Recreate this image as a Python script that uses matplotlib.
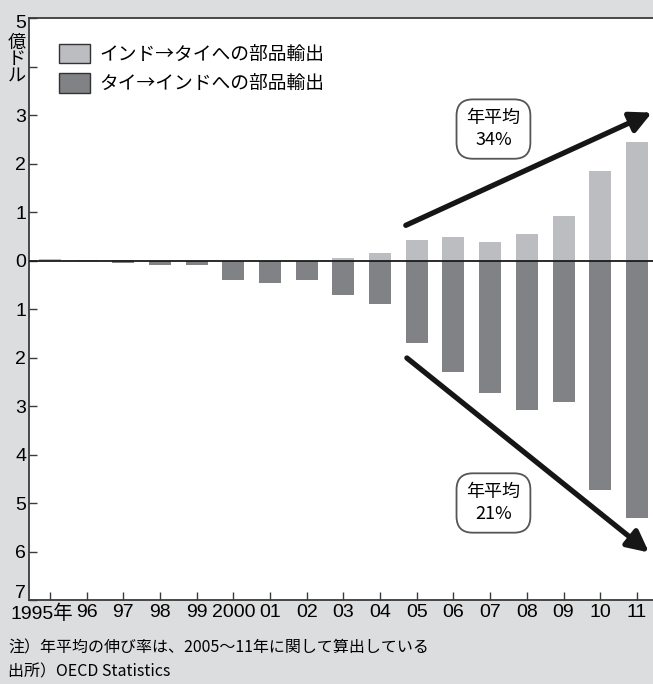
import matplotlib
matplotlib.use("Agg")
import matplotlib.pyplot as plt
from matplotlib.patches import Patch
from matplotlib.transforms import ScaledTranslation

plt.rcParams['font.family'] = ['Liberation Sans', 'Noto Sans CJK JP', 'DejaVu Sans']
CJK = ['Noto Sans CJK JP', 'DejaVu Sans']

# Parts trade between India and Thailand (100 million USD)
years = ["1995年", "96", "97", "98", "99", "2000", "01", "02", "03", "04",
         "05", "06", "07", "08", "09", "10", "11"]
india_to_thai = [0.03, 0.02, 0.02, 0.0, 0.0, 0.0, 0.0, 0.0, 0.06, 0.16,
                 0.42, 0.48, 0.38, 0.54, 0.92, 1.84, 2.44]
thai_to_india = [0.0, 0.0, 0.06, 0.10, 0.10, 0.40, 0.46, 0.40, 0.71, 0.90,
                 1.70, 2.29, 2.74, 3.08, 2.92, 4.73, 5.30]
ytick_pos = [5, 4, 3, 2, 1, 0, -1, -2, -3, -4, -5, -6, -7]
ytick_lab = ["5", "", "3", "2", "1", "0", "1", "2", "3", "4", "5", "6", "7"]

LIGHT = "#bcbdc1"
DARK = "#808285"
BG = "#dcdddf"
SPINE = "#3a3a3a"

W, H = 653, 684
fig = plt.figure(figsize=(W / 100, H / 100), dpi=100, facecolor=BG)
ax = fig.add_axes([29 / W, (H - 600) / H, (W - 29) / W, (600 - 18) / H])
ax.set_facecolor("white")

x = list(range(len(years)))
ax.bar(x, india_to_thai, width=0.6, color=LIGHT, zorder=2)
ax.bar(x, [-v for v in thai_to_india], width=0.6, color=DARK, zorder=2)
ax.axhline(0, color="#1a1a1a", lw=1.3, zorder=3)

ax.set_xlim(-0.573, 16.44)
ax.set_ylim(-7, 5)
ax.set_xticks(x)
ax.set_xticklabels(years, fontsize=14)
ax.set_yticks(ytick_pos)
ax.set_yticklabels(ytick_lab, fontsize=14)
ax.tick_params(axis="both", direction="in", length=6, width=1, color=SPINE, pad=2)
ax.tick_params(axis="x", pad=3)

# nudge the end labels so they stay clear of the corners
def nudge(label, dx_px, dy_px):
    label.set_transform(label.get_transform() +
                        ScaledTranslation(dx_px / 100, dy_px / 100, fig.dpi_scale_trans))

xl = ax.get_xticklabels()
yl = ax.get_yticklabels()
nudge(xl[0], -8, 0)
nudge(yl[0], 0, -4)
nudge(yl[-1], 0, 8)

for side in ("left", "bottom", "top"):
    ax.spines[side].set_color(SPINE)
    ax.spines[side].set_linewidth(1.3)
ax.spines["right"].set_visible(False)

# unit label stacked vertically beside the axis
fig.text(17 / W, 1 - 59 / H, "億\nド\nル", ha="center", va="center",
         fontsize=13, linespacing=0.88, family=CJK)

handles = [Patch(facecolor=LIGHT, edgecolor="#333333", lw=1.0, label="インド→タイへの部品輸出"),
           Patch(facecolor=DARK, edgecolor="#333333", lw=1.0, label="タイ→インドへの部品輸出")]
ax.legend(handles=handles, loc="upper left", bbox_to_anchor=(0.03, 0.975),
          frameon=False, prop={"family": CJK, "size": 13.5},
          handlelength=1.65, handleheight=1.2,
          handletextpad=0.5, labelspacing=0.45, borderaxespad=0.2)

# growth arrows
arrow_kw = dict(arrowstyle="-|>", lw=3.8, color="#161616",
                mutation_scale=32, shrinkA=0, shrinkB=0)
ax.annotate("", xy=(16.41, 3.05), xytext=(9.70, 0.725),
            arrowprops=arrow_kw, annotation_clip=False)
ax.annotate("", xy=(16.33, -6.02), xytext=(9.73, -2.01),
            arrowprops=arrow_kw, annotation_clip=False)

box_kw = dict(boxstyle="round,pad=0.55,rounding_size=0.9", fc="white",
              ec="#555555", lw=1.3)
ax.text(12.09, 2.71, "年平均\n34%", ha="center", va="center", fontsize=13,
        linespacing=1.25, bbox=box_kw, zorder=5, family=CJK)
ax.text(12.09, -5.0, "年平均\n21%", ha="center", va="center", fontsize=13,
        linespacing=1.25, bbox=box_kw, zorder=5, family=CJK)

fig.text(8 / W, 1 - 648 / H, "注）年平均の伸び率は、2005～11年に関して算出している",
         ha="left", va="center", fontsize=11.5, family=CJK)
fig.text(8 / W, 1 - 672 / H, "出所）OECD Statistics",
         ha="left", va="center", fontsize=11.5, family=CJK)

fig.savefig("out.png", dpi=100, facecolor=BG)
